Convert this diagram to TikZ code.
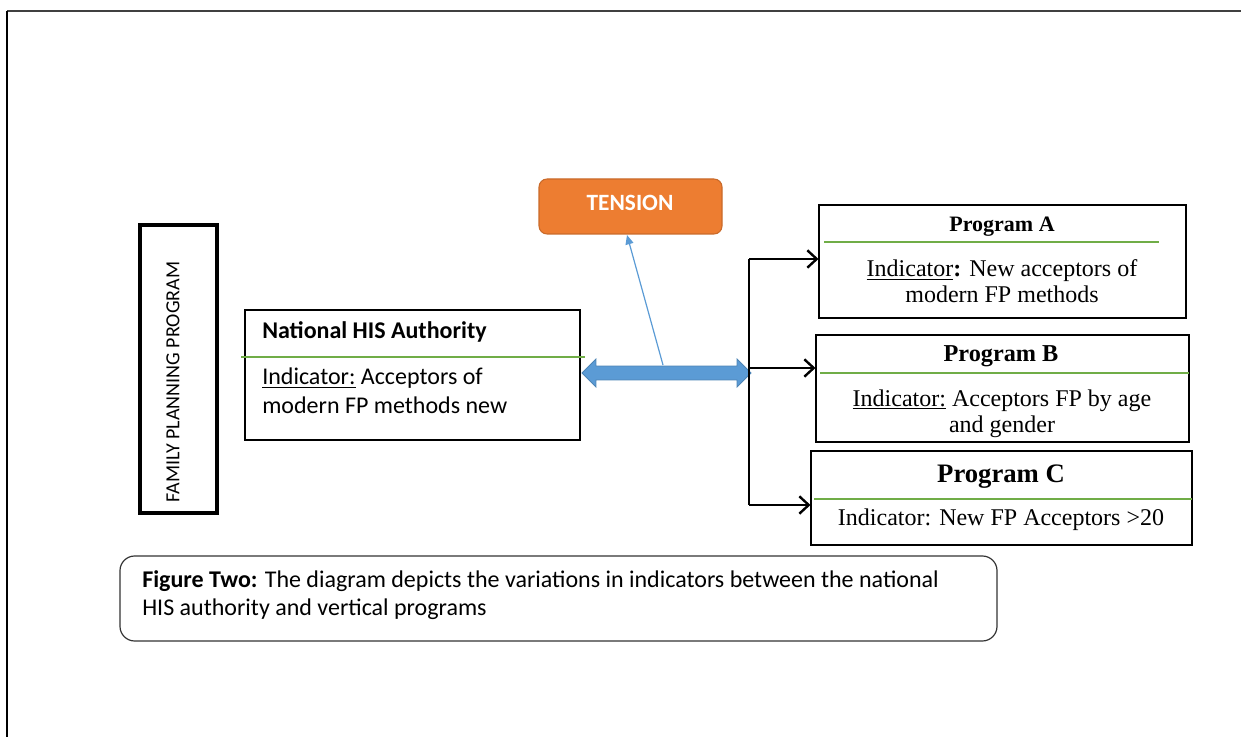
\documentclass[tikz,border=0pt]{standalone}
\usepackage{fontspec}
\setmainfont{Liberation Serif}
\newfontfamily\calfont{Carlito}
\usetikzlibrary{fit,shapes.arrows,arrows.meta}
\definecolor{fpgreen}{HTML}{70AD47}
\definecolor{fporange}{HTML}{ED7D31}
\definecolor{fpblue}{HTML}{5B9BD5}
\begin{document}
\begin{tikzpicture}[x=0.75pt,y=-0.75pt,
  boxnode/.style={fit={#1},inner sep=0pt,draw=black,line width=0.8pt},
  greenline/.style={draw=fpgreen,line width=1.7pt},
  progtitle/.style={anchor=base,inner sep=0pt,font=\bfseries\fontsize{#1}{#1}\selectfont},
  progtext/.style={anchor=base,inner sep=0pt,align=center,font=\fontsize{18}{19.5}\selectfont},
  caltext/.style={anchor=base west,inner sep=0pt,align=left,font=\calfont\fontsize{18}{21}\selectfont},
  brarrow/.style={line width=1.8pt,-{Straight Barb[length=7pt,width=13pt]}}]
\useasboundingbox (0,0) rectangle (1241,737);
% outer frame
\draw[line width=1.6pt,black!75] (7,11) -- (1241,11);
\draw[line width=0.8pt,black] (7,11) -- (7,737);
% family planning program
\node[fit={(140,225)(217,513)},inner sep=0pt,draw=black,line width=2.4pt] (fpp) {};
\node[rotate=90,inner sep=0pt,font=\calfont\fontsize{15}{17}\selectfont] (fpptext) at (173,382) {FAMILY PLANNING PROGRAM};
% national HIS authority
\node[boxnode={(245,310)(580,440)}] (nat) {};
\draw[greenline] (241,357) -- (585,357);
\node[caltext,font=\calfont\bfseries\fontsize{18}{21}\selectfont] (nattitle) at (262,339) {National HIS Authority};
\node[caltext] (nattext) at (262,413) {\underline{Indicator:} Acceptors of\\modern FP methods new};
% tension
\node[fit={(539,179)(722,234)},inner sep=0pt,rounded corners=6pt,fill=fporange,draw=fporange!85!black,line width=0.8pt] (tension) {};
\node[text=white,inner sep=0pt,font=\calfont\bfseries\fontsize{17.5}{19}\selectfont] (tensiontext) at (630,203) {TENSION};
% double arrow
\node[double arrow,fill=fpblue,draw=fpblue!85!black,line width=0.6pt,inner xsep=0pt,inner ysep=4.9pt,
  minimum height=169*0.75pt,minimum width=0pt,double arrow head extend=7*0.75pt] (dbl) at (666.5,373) {};
\coordinate (tensfoot) at (663,365);
\coordinate (tenstip) at (627,235);
\draw[fpblue,line width=0.9pt,-{Triangle[length=7pt,width=6pt]}] (tensfoot) -- (tenstip);
% bracket
\coordinate (brA) at (749,259);
\coordinate (brB) at (749,368);
\coordinate (brC) at (749,505);
\draw[line width=1.8pt] (brA) -- (brC);
% programs
\node[boxnode={(819,205)(1186,318)}] (pa) {};
\draw[greenline] (824,242) -- (1159,242);
\node[progtitle=16.5] (patitle) at (1002,232) {Program A};
\node[progtext] (patext) at (1002,303) {\underline{Indicator}\textbf{:} New acceptors of\\modern FP methods};
\node[boxnode={(816,335)(1189,442)}] (pb) {};
\draw[greenline] (820,373) -- (1189,373);
\node[progtitle=18.2] (pbtitle) at (1001,362) {Program B};
\node[progtext] (pbtext) at (1002,432) {\underline{Indicator:} Acceptors FP by age\\and gender};
\node[boxnode={(811,451)(1192,545)}] (pc) {};
\draw[greenline] (814,499) -- (1192,499);
\node[progtitle=20] (pctitle) at (1001,482) {Program C};
\node[progtext] (pctext) at (1001,525) {Indicator: New FP Acceptors >20};
\draw[brarrow] (brA) -- (brA -| pa.west);
\draw[brarrow] (brB) -- (brB -| pb.west);
\draw[brarrow] (brC) -- (brC -| pc.west);
% caption
\node[fit={(120,556)(997,641)},inner sep=0pt,rounded corners=11pt,draw=black!80,line width=0.9pt] (cap) {};
\node[caltext] (captext) at (142,615) {\textbf{Figure Two:} The diagram depicts the variations in indicators between the national\\HIS authority and vertical programs};
\end{tikzpicture}
\end{document}
